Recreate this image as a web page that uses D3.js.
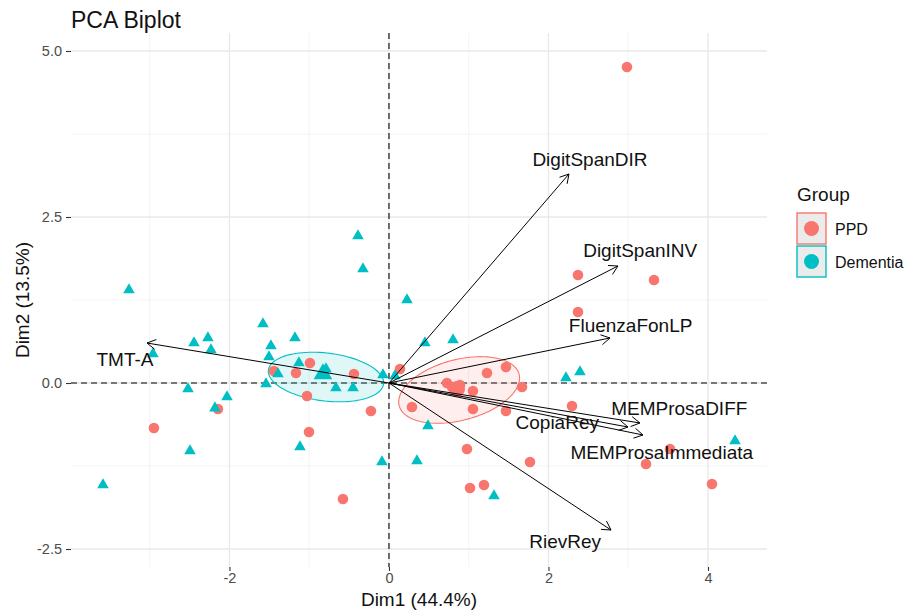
<!DOCTYPE html>
<html>
<head>
<meta charset="utf-8">
<script src="https://cdn.jsdelivr.net/npm/d3@7"></script>
<style>
  html, body { margin: 0; padding: 0; background: #ffffff; }
  svg { display: block; font-family: "Liberation Sans", Arial, sans-serif; }
</style>
</head>
<body>
<svg id="chart" width="910" height="610"></svg>
<script>
// Individuals: PCA scores (Dim1, Dim2) per group
const ppdX = [2.984, 2.370, 3.323, 2.370, -2.947, -0.991, -1.442, -1.166, -0.439, -1.028, -0.226, -1.003, -0.577, -2.144,
  0.138, 1.229, 1.467, 0.727, 0.890, 0.790, 1.053, 1.668, 0.288, 1.053, 1.467, 0.978, 1.768, 1.016, 1.191, 2.295, 3.524, 3.223, 4.050];
const ppdY = [4.759, 1.627, 1.551, 1.069, -0.678, 0.301, 0.181, 0.151, 0.136, -0.196, -0.422, -0.738, -1.747, -0.392,
  0.211, 0.151, 0.241, 0.000, -0.030, -0.060, -0.120, -0.060, -0.361, -0.392, -0.422, -0.994, -1.190, -1.581, -1.536, -0.346, -0.994, -1.220, -1.521];

const demX = [-3.586, -3.260, -2.959, -2.445, -2.270, -2.232, -2.520, -2.031, -2.182, -2.495, -1.580, -1.480, -1.505, -1.392,
  -1.542, -1.179, -1.129, -0.790, -0.665, -0.451, -1.116, -0.389, -0.326, -0.075, -0.088, 0.075, 0.226, 0.451, 0.803, 0.351,
  0.489, 1.317, 2.219, 2.395, 4.339];
const demY = [-1.536, 1.401, 0.437, 0.602, 0.678, 0.497, -0.090, -0.211, -0.377, -1.024, 0.889, 0.557, 0.392, 0.136,
  -0.015, 0.678, 0.301, 0.211, -0.075, -0.075, -0.964, 2.214, 1.717, 0.120, -1.190, 0.105, 1.250, 0.602, 0.648, -1.175,
  -0.648, -1.702, 0.075, 0.166, -0.873];

// Group names and group means
const groups = ["PPD", "Dementia"];
const meanX = [0.853, -0.828];
const meanY = [-0.090, 0.136];

// Confidence ellipses per group (centre, semi-axes and rotation, in Dim units / degrees)
const ellCx = [0.88, -0.79];
const ellCy = [-0.105, 0.09];
const ellRx = [0.79, 0.73];
const ellRy = [0.45, 0.36];
const ellAngle = [20, -9];

// Variables: loading arrows and their label positions
const varNames = ["DigitSpanDIR", "DigitSpanINV", "FluenzaFonLP", "MEMProsaDIFF", "CopiaRey", "MEMProsaImmediata", "RievRey", "TMT-A"];
const varX = [2.257, 2.871, 2.771, 3.147, 2.997, 3.185, 2.784, -3.034];
const varY = [3.148, 1.762, 0.678, -0.602, -0.663, -0.783, -2.214, 0.602];
const labX = [2.52, 3.15, 3.03, 3.64, 2.11, 3.42, 2.21, -3.31];
const labY = [3.36, 2.00, 0.87, -0.39, -0.59, -1.05, -2.38, 0.35];

// Axis ticks
const xTicks = [-2, 0, 2, 4];
const xMinor = [-3, -1, 1, 3];
const yTicks = [-2.5, 0, 2.5, 5];
const yMinor = [-1.25, 1.25, 3.75];

const colors = { PPD: "#F8766D", Dementia: "#00BFC4" };

const svg = d3.select("#chart");
const panel = { left: 71, right: 767, top: 33, bottom: 567 };

const x = d3.scaleLinear().domain([-3.987, 4.740]).range([panel.left, panel.right]);
const y = d3.scaleLinear().domain([-2.771, 5.271]).range([panel.bottom, panel.top]);

// Grid
const grid = svg.append("g");
grid.selectAll(".vminor").data(xMinor).join("line")
  .attr("x1", d => x(d)).attr("x2", d => x(d))
  .attr("y1", panel.top).attr("y2", panel.bottom)
  .attr("stroke", "#f0f0f0").attr("stroke-width", 0.8);
grid.selectAll(".hminor").data(yMinor).join("line")
  .attr("y1", d => y(d)).attr("y2", d => y(d))
  .attr("x1", panel.left).attr("x2", panel.right)
  .attr("stroke", "#f0f0f0").attr("stroke-width", 0.8);
grid.selectAll(".vmajor").data(xTicks).join("line")
  .attr("x1", d => x(d)).attr("x2", d => x(d))
  .attr("y1", panel.top).attr("y2", panel.bottom)
  .attr("stroke", "#e8e8e8").attr("stroke-width", 1.3);
grid.selectAll(".hmajor").data(yTicks).join("line")
  .attr("y1", d => y(d)).attr("y2", d => y(d))
  .attr("x1", panel.left).attr("x2", panel.right)
  .attr("stroke", "#e8e8e8").attr("stroke-width", 1.3);

// Axes (ticks and labels only)
const xAxis = svg.append("g").attr("transform", `translate(0,${panel.bottom})`)
  .call(d3.axisBottom(x).tickValues(xTicks).tickSize(4).tickPadding(2).tickFormat(d => String(d)));
const yAxis = svg.append("g").attr("transform", `translate(${panel.left},0)`)
  .call(d3.axisLeft(y).tickValues(yTicks).tickSize(5).tickPadding(4).tickFormat(d => d.toFixed(1)));
[xAxis, yAxis].forEach(a => {
  a.select(".domain").remove();
  a.selectAll(".tick line").attr("stroke", "#333333").attr("stroke-width", 1.1);
  a.selectAll(".tick text").attr("fill", "#4D4D4D").style("font-size", "14.5px")
    .style("font-family", "'Liberation Sans', Arial, sans-serif");
});

// Reference lines through the origin
svg.append("line").attr("x1", panel.left).attr("x2", panel.right)
  .attr("y1", y(0)).attr("y2", y(0))
  .attr("stroke", "#000").attr("stroke-width", 1.1).attr("stroke-dasharray", "6,4");
svg.append("line").attr("y1", panel.top).attr("y2", panel.bottom)
  .attr("x1", x(0)).attr("x2", x(0))
  .attr("stroke", "#000").attr("stroke-width", 1.1).attr("stroke-dasharray", "6,4");

// Ellipses
function ellipsePath(i) {
  const th = ellAngle[i] * Math.PI / 180;
  const pts = d3.range(0, 101).map(k => {
    const t = k / 100 * 2 * Math.PI;
    const dx = ellRx[i] * Math.cos(t) * Math.cos(th) - ellRy[i] * Math.sin(t) * Math.sin(th);
    const dy = ellRx[i] * Math.cos(t) * Math.sin(th) + ellRy[i] * Math.sin(t) * Math.cos(th);
    return [x(ellCx[i] + dx), y(ellCy[i] + dy)];
  });
  return d3.line()(pts) + "Z";
}
svg.append("g").selectAll("path").data(groups).join("path")
  .attr("d", (g, i) => ellipsePath(i))
  .attr("fill", g => colors[g]).attr("fill-opacity", 0.12)
  .attr("stroke", g => colors[g]).attr("stroke-width", 1.1);

// Individuals
const ppd = ppdX.map((v, i) => ({ x: v, y: ppdY[i] }));
const dem = demX.map((v, i) => ({ x: v, y: demY[i] }));

svg.append("g").selectAll("circle").data(ppd).join("circle")
  .attr("cx", d => x(d.x)).attr("cy", d => y(d.y)).attr("r", 5.3)
  .attr("fill", colors.PPD);

const tri = d3.symbol().type(d3.symbolTriangle).size(58);
svg.append("g").selectAll("path").data(dem).join("path")
  .attr("transform", d => `translate(${x(d.x)},${y(d.y)})`)
  .attr("d", tri).attr("fill", colors.Dementia);

// Group means (larger markers)
svg.append("circle").attr("cx", x(meanX[0])).attr("cy", y(meanY[0])).attr("r", 8)
  .attr("fill", colors.PPD);
svg.append("path").attr("transform", `translate(${x(meanX[1])},${y(meanY[1])})`)
  .attr("d", d3.symbol().type(d3.symbolTriangle).size(150)).attr("fill", colors.Dementia);

// Variable arrows
const vars = varNames.map((n, i) => ({ name: n, x: varX[i], y: varY[i], lx: labX[i], ly: labY[i] }));
const arrows = svg.append("g");
vars.forEach(v => {
  const x0 = x(0), y0 = y(0), x1 = x(v.x), y1 = y(v.y);
  const ang = Math.atan2(y1 - y0, x1 - x0);
  const hl = 10, ha = Math.PI / 6;
  arrows.append("line").attr("x1", x0).attr("y1", y0).attr("x2", x1).attr("y2", y1)
    .attr("stroke", "#000").attr("stroke-width", 1);
  arrows.append("path")
    .attr("d", `M${x1 - hl * Math.cos(ang - ha)},${y1 - hl * Math.sin(ang - ha)}L${x1},${y1}L${x1 - hl * Math.cos(ang + ha)},${y1 - hl * Math.sin(ang + ha)}`)
    .attr("fill", "none").attr("stroke", "#000").attr("stroke-width", 1);
});
svg.append("g").selectAll("text").data(vars).join("text")
  .attr("x", d => x(d.lx)).attr("y", d => y(d.ly))
  .attr("text-anchor", "middle").attr("dominant-baseline", "central")
  .style("font-size", "19px").attr("fill", "#111")
  .text(d => d.name);

// Titles
svg.append("text").attr("x", panel.left).attr("y", 28)
  .style("font-size", "23px").attr("fill", "#111").text("PCA Biplot");
svg.append("text").attr("x", (panel.left + panel.right) / 2).attr("y", 606)
  .attr("text-anchor", "middle").style("font-size", "19px").attr("fill", "#111").text("Dim1 (44.4%)");
svg.append("text").attr("transform", `translate(29,${(panel.top + panel.bottom) / 2}) rotate(-90)`)
  .attr("text-anchor", "middle").style("font-size", "19px").attr("fill", "#111").text("Dim2 (13.5%)");

// Legend
const leg = svg.append("g").attr("transform", "translate(797,0)");
leg.append("text").attr("x", 0).attr("y", 201).style("font-size", "19px").attr("fill", "#111").text("Group");
groups.forEach((g, i) => {
  const top = 213 + i * 33;
  leg.append("rect").attr("x", 0).attr("y", top).attr("width", 29).attr("height", 31)
    .attr("fill", "#EBEBEB").attr("stroke", colors[g]).attr("stroke-width", 1.4);
  leg.append("circle").attr("cx", 14.5).attr("cy", top + 15.5).attr("r", 7.5).attr("fill", colors[g]);
  leg.append("text").attr("x", 38).attr("y", top + 16).attr("dominant-baseline", "central")
    .style("font-size", "16px").attr("fill", "#111").text(g);
});
</script>
</body>
</html>
